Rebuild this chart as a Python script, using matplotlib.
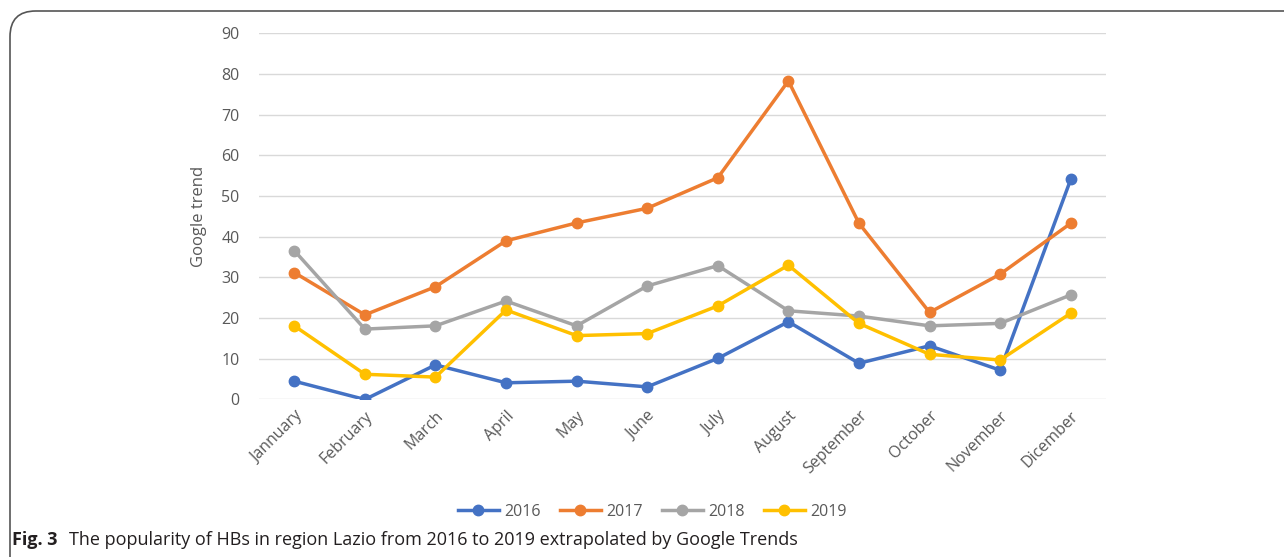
import matplotlib.pyplot as plt
from matplotlib.patches import FancyBboxPatch

# data
months = ["Jannuary", "February", "March", "April", "May", "June",
          "July", "August", "September", "October", "November", "Dicember"]
y2016 = [4.5, 0, 8.5, 4.1, 4.5, 3.1, 10.1, 19.1, 8.9, 13.2, 7.2, 54.1]
y2017 = [31.2, 20.8, 27.7, 39.0, 43.4, 47.0, 54.5, 78.3, 43.3, 21.4, 30.8, 43.3]
y2018 = [36.6, 17.3, 18.1, 24.2, 18.1, 27.9, 32.9, 21.8, 20.5, 18.1, 18.7, 25.7]
y2019 = [18.1, 6.2, 5.5, 22.0, 15.7, 16.2, 23.0, 33.0, 18.7, 11.1, 9.7, 21.2]
years = ["2016", "2017", "2018", "2019"]
colors = ["#4472C4", "#ED7D31", "#A5A5A5", "#FFC000"]

plt.rcParams['font.family'] = ['Open Sans', 'DejaVu Sans']

fig = plt.figure(figsize=(12.84, 5.57), dpi=100)
ax = fig.add_axes([0.2017, 0.2828, 0.6597, 0.6574])

x = list(range(len(months)))
for vals, lab, c in zip([y2016, y2017, y2018, y2019], years, colors):
    ax.plot(x, vals, color=c, lw=2.5, marker="o", markersize=7.5, label=lab)

ax.set_xlim(-0.5, 11.5)
ax.set_ylim(0, 90)
ax.set_yticks(range(0, 91, 10))
ax.set_xticks(x)
ax.set_xticklabels(months, rotation=45, ha="right", rotation_mode="anchor")
ax.tick_params(axis="both", length=0, labelsize=11.5, colors="#595959")
ax.tick_params(axis="y", pad=14)
ax.tick_params(axis="x", pad=6)
ax.grid(axis="y", color="#D9D9D9", lw=1)
ax.set_axisbelow(True)
for s in ax.spines.values():
    s.set_visible(False)
ax.set_ylabel("Google trend", fontsize=12, color="#595959", labelpad=10)

# legend below the plot
fig.legend(loc="center", bbox_to_anchor=(652 / 1284, 1 - 512 / 557), ncol=4,
           frameon=False, fontsize=11.5, handlelength=2.6, columnspacing=1.2,
           handletextpad=0.3, labelcolor="#595959")

# rounded frame of the figure panel
frame = FancyBboxPatch((10 / 1284, -0.2), 1.2, 1.2 - 11 / 557,
                       boxstyle="round,pad=0,rounding_size=0.02",
                       transform=fig.transFigure, fill=False,
                       edgecolor="#555555", lw=1.2, mutation_aspect=1284 / 557)
fig.patches.append(frame)

# caption
fig.text(12 / 1284, 1 - 540 / 557, "Fig. 3", fontsize=13, fontweight="bold",
         color="#231F20", va="center")
fig.text(69 / 1284, 1 - 540 / 557,
         "The popularity of HBs in region Lazio from 2016 to 2019 extrapolated by Google Trends",
         fontsize=13, color="#231F20", va="center")

plt.savefig("out.png", dpi=100)
